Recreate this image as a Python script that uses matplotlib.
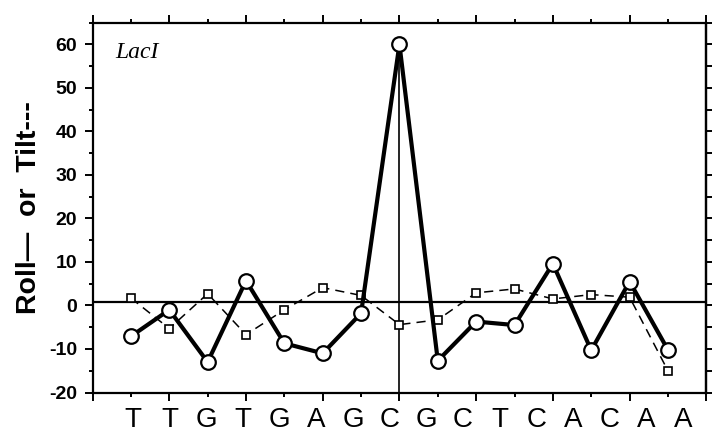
import numpy as np
import matplotlib
matplotlib.use('Agg')
import matplotlib.pyplot as plt
from matplotlib.ticker import MultipleLocator, NullFormatter

# base-pair steps along the LacI site
bases = ['T', 'T', 'G', 'T', 'G', 'A', 'G', 'C', 'G', 'C', 'T', 'C', 'A', 'C', 'A', 'A']
steps = list(range(1, 16))
roll = [-7.1, -1.0, -13.0, 5.7, -8.7, -11.0, -1.8, 60.0, -12.7, -3.7, -4.5, 9.6, -10.3, 5.5, -10.2]
tilt = [1.7, -5.3, 2.7, -6.7, -1.0, 4.1, 2.3, -4.4, -3.3, 2.9, 3.8, 1.5, 2.5, 1.9, -15.0]
yticks = [-20, -10, 0, 10, 20, 30, 40, 50, 60]

plt.rcParams['font.family'] = ['Liberation Sans', 'DejaVu Sans']
plt.rcParams['axes.unicode_minus'] = False

fig = plt.figure( figsize = (7.12, 4.34), dpi = 100 )
ax = fig.add_axes( [0.130, 0.0956, 0.862, 0.8524] )

ax.axhline( 0.7, color = 'black', lw = 1.6, zorder = 1 )
ax.plot( [8, 8], [-20, 60], color = 'black', lw = 1.2, zorder = 1 )

ax.plot( steps, tilt, color = 'black', lw = 1.1, ls = (0, (6, 4)),
        marker = 's', ms = 6, mfc = 'white', mec = 'black', mew = 1.2, zorder = 2 )
ax.plot( steps, roll, color = 'black', lw = 3.0,
        marker = 'o', ms = 10.5, mfc = 'white', mec = 'black', mew = 1.6, zorder = 3 )

ax.set_xlim( 0, 16 )
ax.set_ylim( -20, 65 )

ax.xaxis.set_major_locator( MultipleLocator( 2 ) )
ax.xaxis.set_minor_locator( MultipleLocator( 1 ) )
ax.xaxis.set_major_formatter( NullFormatter( ) )
ax.set_yticks( yticks )
ax.yaxis.set_minor_locator( MultipleLocator( 5 ) )
ax.tick_params( axis = 'x', which = 'major', direction = 'out', length = 6, width = 1.4,
        top = True, bottom = True )
ax.tick_params( axis = 'x', which = 'minor', direction = 'out', length = 3, width = 1.4,
        top = True, bottom = True )
ax.tick_params( axis = 'y', which = 'major', direction = 'out', length = 6, width = 1.4,
        labelsize = 14, pad = 5, right = False )
ax.tick_params( axis = 'y', which = 'minor', direction = 'out', length = 3, width = 1.4,
        right = False )
for lab in ax.get_yticklabels( ):
    lab.set_fontweight( 'bold' )

sec = ax.secondary_yaxis( 'right' )
sec.set_yticks( np.arange( -20, 66, 5 ) )
sec.yaxis.set_major_formatter( NullFormatter( ) )
sec.tick_params( direction = 'out', length = 4, width = 1.4 )
sec.spines['right'].set_linewidth( 1.6 )

for s in ax.spines.values( ):
    s.set_linewidth( 1.6 )

ax.set_ylabel( 'Roll\u2014  or  Tilt---', fontsize = 20.5, fontweight = 'bold', labelpad = 5 )

ax.text( 0.58, 56.8, 'LacI', fontsize = 17, style = 'italic',
        family = ['Liberation Serif'], va = 'baseline' )

# sequence letters sit slightly out of step with the ticks in the original
for xpos, b in zip( np.linspace( 1.05, 15.4, len( bases ) ), bases ):
    ax.text( xpos, -29.4, b, fontsize = 20, ha = 'center', va = 'bottom',
            clip_on = False )

fig.savefig( 'out.png', dpi = 100 )
